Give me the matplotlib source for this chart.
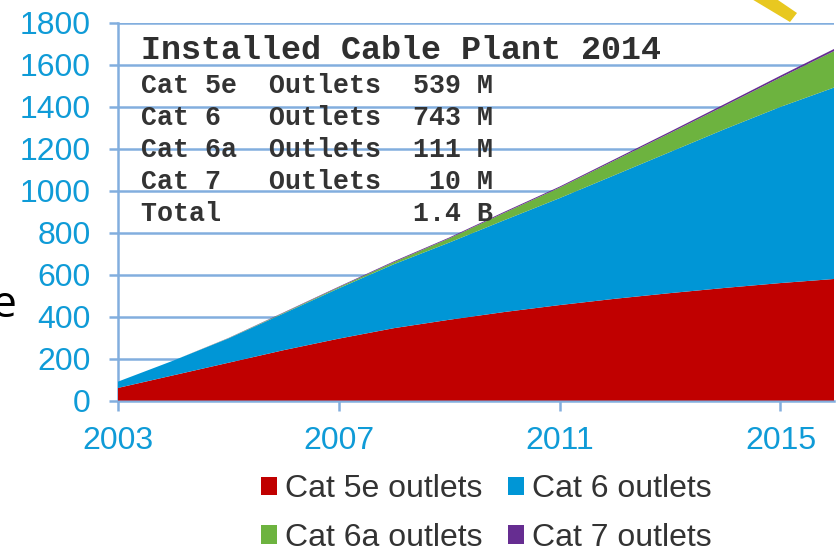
import matplotlib
matplotlib.use('Agg')
import matplotlib.pyplot as plt
from matplotlib.patches import Polygon, Patch

years = [2003, 2004, 2005, 2006, 2007, 2008, 2009, 2010, 2011, 2012, 2013, 2014, 2015, 2016]
cat5e = [60, 120, 180, 240, 295, 345, 385, 422, 455, 485, 512, 537, 560, 580]
cat6 = [30, 70, 116, 175, 240, 305, 368, 438, 510, 590, 673, 758, 840, 915]
cat6a = [0, 0, 1, 3, 5, 10, 20, 35, 50, 70, 90, 112, 140, 175]
cat7 = [0, 0, 1, 2, 3, 4, 4, 5, 5, 6, 7, 8, 9, 10]

y_ticks = [0, 200, 400, 600, 800, 1000, 1200, 1400, 1600, 1800]
x_ticks = [2003, 2007, 2011, 2015]

table_title = 'Installed Cable Plant 2014'
table_rows = ['Cat 5e  Outlets  539 M',
              'Cat 6   Outlets  743 M',
              'Cat 6a  Outlets  111 M',
              'Cat 7   Outlets   10 M',
              'Total            1.4 B']

labels = ['Cat 5e outlets', 'Cat 6 outlets', 'Cat 6a outlets', 'Cat 7 outlets']
colors = ['#C00000', '#0096D6', '#6DB33F', '#662D91']

W, H = 839, 548
line_c = '#82AEDE'
tick_c = '#0F9BD7'

plt.rcParams['font.family'] = ['Liberation Sans', 'DejaVu Sans']
fig = plt.figure(figsize=(W / 100, H / 100), dpi=100)
ax = fig.add_axes([118 / W, 1 - 400.5 / H, (834 - 118) / W, (400.5 - 23) / H])

ax.stackplot(years, cat5e, cat6, cat6a, cat7, colors=colors, labels=labels, zorder=3, linewidth=0)

ax.set_xlim(2003, 2015.97)
ax.set_ylim(0, 1800)
ax.set_xticks(x_ticks)
ax.set_yticks(y_ticks)
ax.grid(axis='y', color=line_c, linewidth=1.8, zorder=1)
ax.set_axisbelow(True)
ax.tick_params(axis='y', colors=line_c, labelcolor=tick_c, labelsize=23, length=6.5, width=1.8, pad=13)
ax.tick_params(axis='x', colors=line_c, labelcolor=tick_c, labelsize=23, length=7, width=1.8, pad=11.5)
for s in ['top', 'right']:
    ax.spines[s].set_visible(False)
for s in ['left', 'bottom']:
    ax.spines[s].set_color(line_c)
    ax.spines[s].set_linewidth(1.8)

# text box over the gridlines
fig.text(141 / W, 1 - 50.5 / H, table_title, family='Liberation Mono', weight='bold',
         fontsize=24, color='#2F2F2F', va='center', zorder=5)
for i, row in enumerate(table_rows):
    fig.text(141 / W, 1 - (86 + 32 * i) / H, row, family='Liberation Mono', weight='bold',
             fontsize=19.2, color='#333333', va='center', zorder=5)

# leftover letter cut off at the left edge
fig.text(16 / W, 1 - 306 / H, 'e', family='Open Sans', fontsize=32, color='black', ha='right', va='center')

# ruler picture in the top corner
ruler = Polygon([(750 / W, 1 + 2 / H), (775 / W, 1 + 2 / H), (797 / W, 1 - 13 / H), (790 / W, 1 - 22 / H)],
                closed=True, transform=fig.transFigure, facecolor='#E8C820', edgecolor='none')
fig.add_artist(ruler)

# legend goes column by column
order = [0, 2, 1, 3]
handles = [Patch(facecolor=colors[i], label=labels[i]) for i in order]
leg = fig.legend(handles=handles, ncol=2, loc='center', bbox_to_anchor=(486 / W, 1 - 513.5 / H), frameon=False,
                 fontsize=23, handlelength=0.5, handleheight=0.5, handletextpad=0.25,
                 columnspacing=0.8, labelspacing=0.58, borderpad=0, labelcolor='#333333')

fig.savefig('out.png', dpi=100)
